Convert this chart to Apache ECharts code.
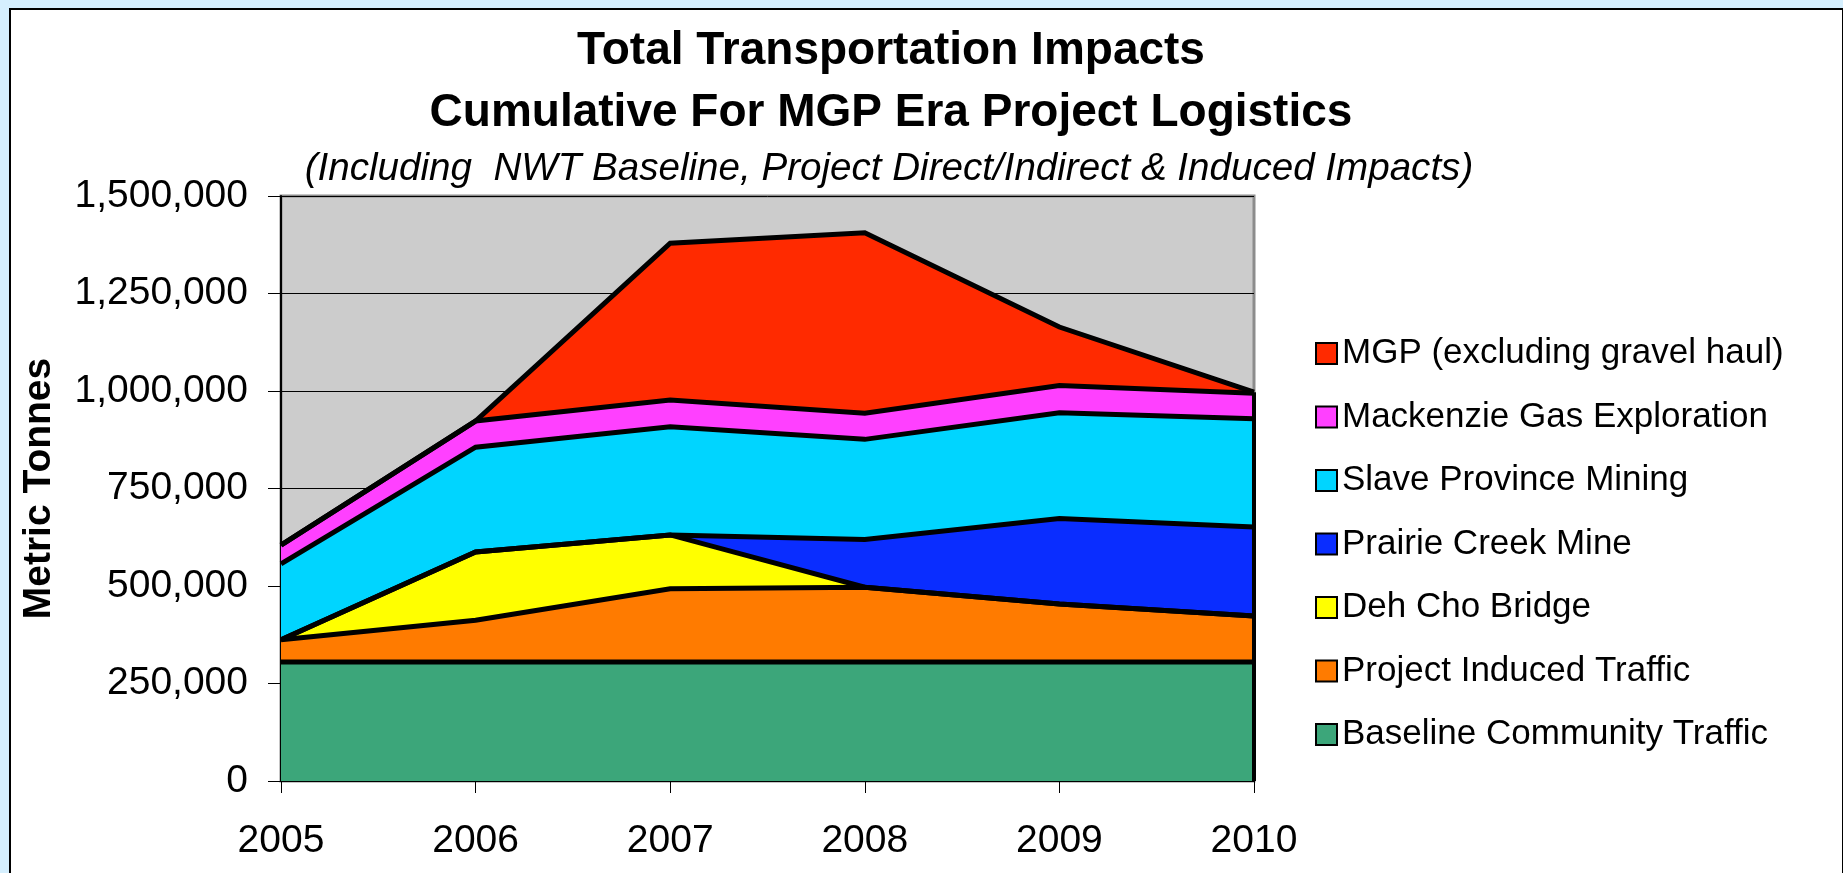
<!DOCTYPE html>
<html>
<head>
<meta charset="utf-8">
<script src="https://cdn.jsdelivr.net/npm/echarts@6/dist/echarts.min.js"></script>
<style>
html,body{margin:0;padding:0;background:#d5effe;}
#chart{width:1843px;height:873px;}
</style>
</head>
<body>
<div id="chart"></div>
<script>
const years = ['2005', '2006', '2007', '2008', '2009', '2010'];
const baseline = [305000, 305000, 305000, 305000, 305000, 305000];
const induced = [57000, 107000, 188000, 192000, 149000, 118000];
const bridge = [0, 175000, 138000, 0, 0, 0];
const prairie = [0, 0, 0, 122000, 219000, 228000];
const slave = [195000, 269000, 277000, 257000, 271000, 278000];
const mackenzie = [48000, 67000, 69000, 67000, 70000, 65000];
const mgp = [0, 0, 402000, 463000, 150000, 3000];

const seriesNames = ['Baseline Community Traffic', 'Project Induced Traffic', 'Deh Cho Bridge', 'Prairie Creek Mine', 'Slave Province Mining', 'Mackenzie Gas Exploration', 'MGP (excluding gravel haul)'];
const seriesData = [baseline, induced, bridge, prairie, slave, mackenzie, mgp];
const colors = ['#3ca67a', '#ff7b00', '#ffff00', '#0a2dff', '#00d5ff', '#ff40ff', '#ff2a00'];

const titleLine1 = 'Total Transportation Impacts';
const titleLine2 = 'Cumulative For MGP Era Project Logistics';
const subTitle = '(Including  NWT Baseline, Project Direct/Indirect & Induced Impacts)';
const yName = 'Metric Tonnes';

const FONT = '"Liberation Sans", Arial, sans-serif';
const lastIdx = years.length - 1;
const totalLast = seriesData.reduce((s, arr) => s + arr[lastIdx], 0);

const series = [];
seriesData.forEach((d, i) => {
  series.push({
    name: seriesNames[i], type: 'line', stack: 'areas', data: d,
    symbol: 'none', z: 2, silent: true,
    lineStyle: { width: 0, color: colors[i] },
    itemStyle: { color: colors[i], borderColor: '#000', borderWidth: 2 },
    areaStyle: { color: colors[i], opacity: 1 }
  });
});
seriesData.forEach((d, i) => {
  series.push({
    name: seriesNames[i] + ' outline', type: 'line', stack: 'lines', data: d,
    symbol: 'none', z: 3, silent: true,
    lineStyle: { width: 5, color: '#000', join: 'miter' }
  });
});
series[series.length - 1].markLine = {
  silent: true, symbol: 'none', label: { show: false },
  lineStyle: { color: '#000', width: 4, type: 'solid' },
  data: [[{ coord: [years[lastIdx], 0] }, { coord: [years[lastIdx], totalLast] }]]
};

const chart = echarts.init(document.getElementById('chart'), null, { renderer: 'canvas' });
chart.setOption({
  backgroundColor: '#d5effe',
  animation: false,
  graphic: [{
    type: 'rect', left: 9, top: 8, z: -10,
    shape: { width: 1833, height: 900 },
    style: { fill: '#ffffff', stroke: '#000', lineWidth: 2 }
  }],
  title: [
    { text: titleLine1, left: 886, top: 23, textAlign: 'center',
      textStyle: { fontFamily: FONT, fontSize: 46, fontWeight: 'bold', color: '#000' } },
    { text: titleLine2, left: 886, top: 85, textAlign: 'center',
      textStyle: { fontFamily: FONT, fontSize: 46, fontWeight: 'bold', color: '#000' } },
    { text: subTitle, left: 884, top: 145, textAlign: 'center',
      textStyle: { fontFamily: FONT, fontSize: 38.6, fontStyle: 'italic', fontWeight: 'normal', color: '#000' } }
  ],
  legend: {
    orient: 'vertical', left: 1315, top: 336, padding: 0,
    itemWidth: 21, itemHeight: 21, itemGap: 28.5, icon: 'rect',
    data: seriesNames.slice().reverse(),
    textStyle: { fontFamily: FONT, fontSize: 35, color: '#000' },
    itemStyle: { borderColor: '#000', borderWidth: 2 }
  },
  grid: {
    left: 281, top: 196, width: 973, height: 585,
    show: true, backgroundColor: '#cccccc', borderColor: '#8c8c8c', borderWidth: 3
  },
  xAxis: {
    type: 'category', data: years, boundaryGap: false,
    axisLine: { show: true, lineStyle: { color: '#000', width: 2 } },
    axisTick: { show: true, length: 12, lineStyle: { color: '#000', width: 1 }, alignWithLabel: true },
    axisLabel: { fontFamily: FONT, fontSize: 39, color: '#000', margin: 41 },
    splitLine: { show: false }
  },
  yAxis: {
    type: 'value', min: 0, max: 1500000, interval: 250000,
    name: yName, nameLocation: 'middle', nameRotate: 90, nameGap: 222,
    nameTextStyle: { fontFamily: FONT, fontSize: 39, fontWeight: 'bold', color: '#000' },
    axisLine: { show: true, lineStyle: { color: '#000', width: 2 } },
    axisTick: { show: true, length: 13, lineStyle: { color: '#000', width: 1 } },
    axisLabel: { fontFamily: FONT, fontSize: 39, color: '#000', margin: 33,
      formatter: v => v.toLocaleString('en-US') },
    splitLine: { show: true, lineStyle: { color: '#000', width: 1 } }
  },
  series: series
});
</script>
</body>
</html>
